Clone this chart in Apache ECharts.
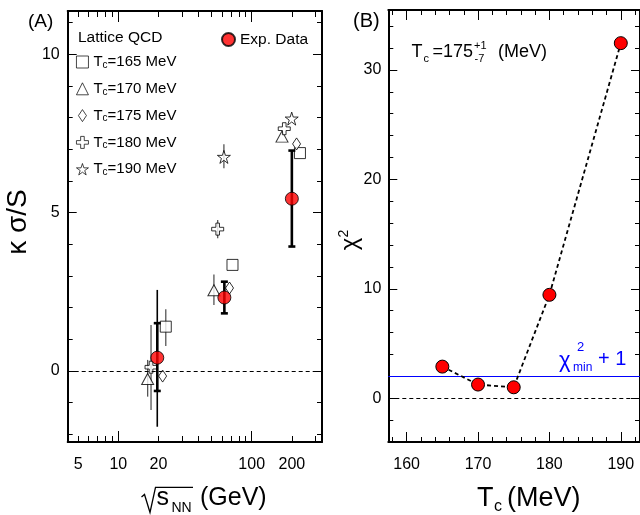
<!DOCTYPE html>
<html><head><meta charset="utf-8">
<script src="https://cdn.jsdelivr.net/npm/echarts@6/dist/echarts.min.js"></script>
<style>html,body{margin:0;padding:0;background:#fff}#c{width:640px;height:515px}</style>
</head><body><div id="c"></div>
<script>
// ---------- Panel A data ----------
const energyTicksMajor = [10, 100];
const energyTicksMinor = [5, 6, 7, 8, 9, 20, 30, 40, 50, 60, 70, 80, 90, 200, 300];
const energyLabels = [5, 10, 20, 100, 200];
const kappaTicksMajor = [0, 5, 10];
const kappaTicksMinor = [-2, -1, 1, 2, 3, 4, 6, 7, 8, 9, 11];
const kappaLabels = [0, 5, 10];

const expEnergy = [19.6, 62.4, 200];
const expKappa = [0.42, 2.32, 5.44];
const expSysLow = [-0.63, 1.82, 3.93];
const expSysHigh = [1.51, 2.82, 6.96];
const expStatLow = [-1.76, null, null];
const expStatHigh = [2.56, null, null];

const lat165X = [22.7, 71.8, 230];
const lat165Y = [1.40, 3.35, 6.88];
const lat165ErrLow = [0.79, null, null];
const lat165ErrHigh = [1.95, null, null];

const lat170X = [16.6, 52.1, 168.7];
const lat170Y = [-0.25, 2.55, 7.40];
const lat170ErrLow = [-0.81, 2.08, null];
const lat170ErrHigh = [0.35, 3.05, null];

const lat175X = [21.5, 68.2, 217];
const lat175Y = [-0.16, 2.62, 7.17];

const lat180X = [17.6, 55.6, 175.4];
const lat180Y = [0.12, 4.48, 7.65];
const lat180ErrLow = [-1.23, 4.19, null];
const lat180ErrHigh = [1.45, 4.77, null];

const lat190X = [61.9, 199.5];
const lat190Y = [6.76, 7.97];
const lat190ErrLow = [6.40, null];
const lat190ErrHigh = [7.16, null];

// ---------- Panel B data ----------
const tcValues = [165, 170, 175, 180, 190];
const chi2Values = [2.89, 1.25, 1.0, 9.45, 32.45];
const chi2MinPlusOne = 2.0;
const tcTicksMajor = [160, 170, 180, 190];
const tcTicksMinor = [158, 162, 164, 166, 168, 172, 174, 176, 178, 182, 184, 186, 188, 192];
const tcLabels = [160, 170, 180, 190];
const chiTicksMajor = [0, 10, 20, 30];
const chiTicksMinor = [-4, -2, 2, 4, 6, 8, 12, 14, 16, 18, 22, 24, 26, 28, 32, 34];
const chiLabels = [0, 10, 20, 30];

// ---------- helpers ----------
const FONT = 'Liberation Sans';
const L = v => Math.log10(v);
const zip = (xs, ys) => xs.map((x, i) => [L(x), ys[i]]);
function errData(xs, lo, hi) {
  const out = [];
  xs.forEach((x, i) => { if (lo[i] != null && hi[i] != null) out.push([L(x), lo[i], hi[i]]); });
  return out;
}
function errRender(lw, color, capW) {
  return function (params, api) {
    const x = api.value(0), lo = api.value(1), hi = api.value(2);
    const p1 = api.coord([x, lo]), p2 = api.coord([x, hi]);
    const st = { stroke: color, lineWidth: lw };
    const ch = [{ type: 'line', shape: { x1: p1[0], y1: p1[1], x2: p2[0], y2: p2[1] }, style: st }];
    if (capW) {
      ch.push({ type: 'line', shape: { x1: p1[0] - capW / 2, y1: p1[1], x2: p1[0] + capW / 2, y2: p1[1] }, style: st });
      ch.push({ type: 'line', shape: { x1: p2[0] - capW / 2, y1: p2[1], x2: p2[0] + capW / 2, y2: p2[1] }, style: st });
    }
    return { type: 'group', children: ch };
  };
}
function ax(grid, pos, min, max, ticks, len, extra) {
  return Object.assign({
    type: 'value', gridIndex: grid, position: pos, min: min, max: max,
    axisLine: { show: false, onZero: false },
    axisTick: { show: true, inside: true, length: len, customValues: ticks, lineStyle: { color: '#000', width: 1 } },
    axisLabel: { show: false },
    splitLine: { show: false }
  }, extra || {});
}
function lineOn() { return { show: true, onZero: false, lineStyle: { color: '#000', width: 2 } }; }
function labels(vals, fmt, margin) {
  return { show: true, customValues: vals, formatter: fmt, margin: margin, fontSize: 16, color: '#000', fontFamily: FONT };
}

const xAmin = L(4.177), xAmax = L(336.5);
const yAmin = -2.242, yAmax = 11.367;
const xBmin = 157.43, xBmax = 192.69;
const yBmin = -4.0, yBmax = 35.48;

const xAxes = [
  ax(0, 'bottom', xAmin, xAmax, energyTicksMajor.map(L), 11, { axisLine: lineOn(), axisLabel: labels(energyLabels.map(L), v => String(Math.round(Math.pow(10, v))), 15) }),
  ax(0, 'bottom', xAmin, xAmax, energyTicksMinor.map(L), 6),
  ax(0, 'top', xAmin, xAmax, energyTicksMajor.map(L), 11, { axisLine: lineOn() }),
  ax(0, 'top', xAmin, xAmax, energyTicksMinor.map(L), 6),
  ax(1, 'bottom', xBmin, xBmax, tcTicksMajor, 10, { axisLine: lineOn(), axisLabel: labels(tcLabels, v => String(v), 15) }),
  ax(1, 'bottom', xBmin, xBmax, tcTicksMinor, 5),
  ax(1, 'top', xBmin, xBmax, tcTicksMajor, 10, { axisLine: lineOn() }),
  ax(1, 'top', xBmin, xBmax, tcTicksMinor, 5)
];
const yAxes = [
  ax(0, 'left', yAmin, yAmax, kappaTicksMajor, 9, { axisLine: lineOn(), axisLabel: labels(kappaLabels, v => String(v), 8) }),
  ax(0, 'left', yAmin, yAmax, kappaTicksMinor, 5),
  ax(0, 'right', yAmin, yAmax, kappaTicksMajor, 9, { axisLine: lineOn() }),
  ax(0, 'right', yAmin, yAmax, kappaTicksMinor, 5),
  ax(1, 'left', yBmin, yBmax, chiTicksMajor, 9, { axisLine: lineOn(), axisLabel: labels(chiLabels, v => String(v), 7) }),
  ax(1, 'left', yBmin, yBmax, chiTicksMinor, 5),
  ax(1, 'right', yBmin, yBmax, chiTicksMajor, 9, { axisLine: lineOn() }),
  ax(1, 'right', yBmin, yBmax, chiTicksMinor, 5)
];

const starPath = 'path://M50,0L61.17,34.63L97.55,34.55L68.07,55.87L79.39,90.45L50,69L20.61,90.45L31.93,55.87L2.45,34.55L38.83,34.63Z';
const crossPath = 'path://M3.5,0H6.5V3.5H10V6.5H6.5V10H3.5V6.5H0V3.5H3.5Z';
const diamondPath = 'path://M4,0L8,6L4,12L0,6Z';
const hollow = { color: '#fff', borderColor: '#000', borderWidth: 1 };

const latErr = [].concat(
  errData(lat165X, lat165ErrLow, lat165ErrHigh),
  errData(lat170X, lat170ErrLow, lat170ErrHigh),
  errData(lat180X, lat180ErrLow, lat180ErrHigh),
  errData(lat190X, lat190ErrLow, lat190ErrHigh)
);

function latSeries(name, xs, ys, symbol, size, keep) {
  return {
    name: name, type: 'scatter', xAxisIndex: 0, yAxisIndex: 0, z: 3,
    data: zip(xs, ys), symbol: symbol, symbolSize: size, symbolKeepAspect: !!keep,
    itemStyle: hollow, emphasis: { disabled: true }, silent: true
  };
}

const series = [
  { type: 'custom', xAxisIndex: 0, yAxisIndex: 0, z: 2, silent: true, data: latErr,
    encode: { x: 0, y: [1, 2] }, renderItem: errRender(1.3, '#555', 0) },
  latSeries('Tc=165 MeV', lat165X, lat165Y, 'rect', 11),
  latSeries('Tc=170 MeV', lat170X, lat170Y, 'triangle', [12, 11]),
  latSeries('Tc=175 MeV', lat175X, lat175Y, diamondPath, 12, true),
  latSeries('Tc=180 MeV', lat180X, lat180Y, crossPath, 12),
  latSeries('Tc=190 MeV', lat190X, lat190Y, starPath, 13),
  { type: 'custom', xAxisIndex: 0, yAxisIndex: 0, z: 4, silent: true,
    data: errData(expEnergy, expStatLow, expStatHigh),
    encode: { x: 0, y: [1, 2] }, renderItem: errRender(1.6, '#000', 0) },
  { type: 'custom', xAxisIndex: 0, yAxisIndex: 0, z: 4, silent: true,
    data: errData(expEnergy, expSysLow, expSysHigh),
    encode: { x: 0, y: [1, 2] }, renderItem: errRender(2.6, '#000', 7) },
  { name: 'Exp. Data', type: 'scatter', xAxisIndex: 0, yAxisIndex: 0, z: 5, silent: true,
    data: zip(expEnergy, expKappa), symbol: 'circle', symbolSize: 13,
    itemStyle: { color: '#ff0000', borderColor: '#000', borderWidth: 1 },
    markLine: { silent: true, symbol: 'none', label: { show: false },
      lineStyle: { color: '#000', width: 1, type: [4, 3] }, data: [{ yAxis: 0 }] } },
  { name: 'chi2', type: 'line', xAxisIndex: 4, yAxisIndex: 4, z: 5, silent: true,
    data: tcValues.map((t, i) => [t, chi2Values[i]]),
    symbol: 'circle', symbolSize: 13, showSymbol: true,
    itemStyle: { color: '#ff0000', borderColor: '#000', borderWidth: 1 },
    lineStyle: { color: '#000', width: 1.8, type: [4, 3] },
    markLine: { silent: true, symbol: 'none', label: { show: false }, data: [
      { yAxis: 0, lineStyle: { color: '#000', width: 1, type: [4, 3] } },
      { yAxis: chi2MinPlusOne, lineStyle: { color: '#0000ff', width: 1.2, type: 'solid' } }
    ] } }
];

function txt(x, y, s, size, color) {
  return { type: 'text', x: x, y: y, silent: true,
    style: { text: s, fontSize: size, fontFamily: FONT, fill: color || '#000', align: 'left', verticalAlign: 'middle' } };
}
const BLUE = '#0000ff';

const graphics = [
  txt(28, 22, '(A)', 19),
  txt(353, 21, '(B)', 20),
  txt(78, 38, 'Lattice QCD', 15.5),
  // panel B annotation
  txt(411.5, 52, 'T', 18),
  txt(423.5, 58.5, 'c', 11),
  txt(432.5, 52, '=175', 18),
  txt(474, 45.5, '+1', 11),
  txt(474.5, 58.5, '-7', 11),
  txt(498, 52, '(MeV)', 18),
  // chi2min + 1
  txt(559, 361, 'χ', 22, BLUE),
  txt(577, 347, '2', 13, BLUE),
  txt(573, 368, 'min', 12, BLUE),
  txt(598, 359, '+ 1', 20, BLUE),
  // x title A
  { type: 'polyline', silent: true, shape: { points: [[141.5, 497], [144.5, 494.5], [150, 512.5], [155.5, 487.3], [193, 487.3]] },
    style: { stroke: '#000', lineWidth: 1.3, fill: null } },
  txt(156.5, 498, 's', 25),
  txt(171.5, 508.5, 'NN', 14),
  txt(200, 498, '(GeV)', 25),
  // x title B
  txt(477, 499, 'T', 27),
  txt(494, 507, 'c', 16),
  txt(507, 499, '(MeV)', 27),
  // y titles
  { type: 'text', x: 18, y: 222, rotation: Math.PI / 2, silent: true,
    style: { text: 'κ σ/S', fontSize: 28, fontFamily: FONT, fill: '#000', align: 'center', verticalAlign: 'middle' } },
  { type: 'text', x: 350, y: 240, rotation: Math.PI / 2, silent: true,
    style: { text: '{m|χ}{s|2}', fontSize: 24, fontFamily: FONT, fill: '#000', align: 'center', verticalAlign: 'middle',
      rich: { m: { fontSize: 24, fontFamily: FONT, lineHeight: 26, verticalAlign: 'middle' },
              s: { fontSize: 14, fontFamily: FONT, lineHeight: 14, verticalAlign: 'top' } } } }
];

const latNames = ['Tc=165 MeV', 'Tc=170 MeV', 'Tc=175 MeV', 'Tc=180 MeV', 'Tc=190 MeV'];

const option = {
  animation: false,
  backgroundColor: '#fff',
  grid: [
    { left: 67.7, top: 11, width: 254.3, height: 431, containLabel: false },
    { left: 388.3, top: 10, width: 252.7, height: 432, containLabel: false }
  ],
  xAxis: xAxes,
  yAxis: yAxes,
  legend: [
    { data: latNames, orient: 'vertical', left: 76, top: 54.5, itemWidth: 12, itemHeight: 12, itemGap: 11.3,
      padding: 0, selectedMode: false,
      itemStyle: { color: '#fff', borderColor: '#000', borderWidth: 0.9 },
      formatter: n => '{t|T}{s|c}{t|' + n.slice(2) + '}',
      textStyle: { fontSize: 15, fontFamily: FONT, color: '#000',
        rich: { t: { fontSize: 15, fontFamily: FONT, lineHeight: 16, verticalAlign: 'middle' },
                s: { fontSize: 10, fontFamily: FONT, lineHeight: 10, verticalAlign: 'bottom' } } } },
    { data: ['Exp. Data'], left: 221, top: 31.5, itemWidth: 13, itemHeight: 13, padding: 0, selectedMode: false,
      textStyle: { fontSize: 15.5, fontFamily: FONT, color: '#000' } }
  ],
  series: series,
  graphic: graphics
};
const chart = echarts.init(document.getElementById('c'));
chart.setOption(option);
</script>
</body></html>
